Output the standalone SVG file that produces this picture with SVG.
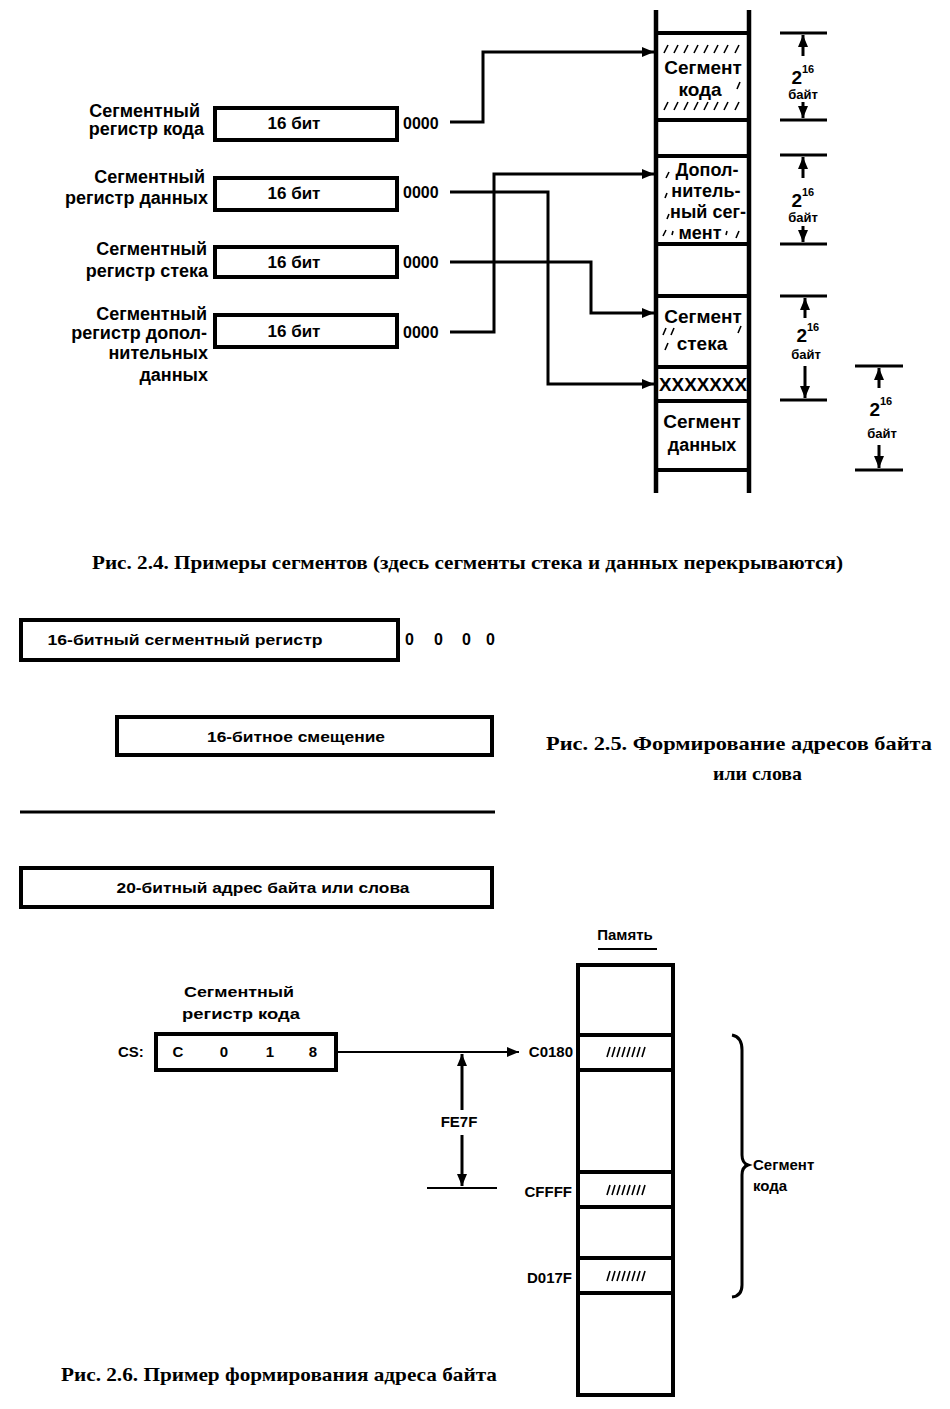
<svg xmlns="http://www.w3.org/2000/svg" width="950" height="1409" viewBox="0 0 950 1409">
<style>
text{font-family:"Liberation Sans",Arial,sans-serif;font-weight:bold;fill:#000}
.lbl{font-size:18px;text-anchor:end}
.box{fill:none;stroke:#000;stroke-width:4}
.wall{stroke:#000;stroke-width:4.5;fill:none}
.sep{stroke:#000;stroke-width:4;fill:none}
.ln{stroke:#000;stroke-width:3;fill:none}
.thin{stroke:#000;stroke-width:2;fill:none}
.hatch{stroke:#000;stroke-width:1.6;fill:none}
.seg{font-size:19px;text-anchor:middle}
.seg2{font-size:18px;text-anchor:middle}
.bit{font-size:17px;text-anchor:middle}
.z{font-size:16px}
.two{font-size:19px;text-anchor:end}
.sup{font-size:11px}
.bt{font-size:13px;text-anchor:middle}
.cap{font-family:"Liberation Serif","Times New Roman",serif;font-weight:bold;font-size:19px}
.b25{font-size:14px;text-anchor:middle}
.m26{font-size:15px}
</style>
<defs>
<marker id="ah" viewBox="0 0 12 10" refX="12" refY="5" markerWidth="13" markerHeight="10" markerUnits="userSpaceOnUse" orient="auto">
<path d="M0,0 L12,5 L0,10 z" fill="#000"/>
</marker>
<marker id="dh" viewBox="0 0 12 10" refX="12" refY="5" markerWidth="14" markerHeight="10" markerUnits="userSpaceOnUse" orient="auto">
<path d="M0,0 L12,5 L0,10 z" fill="#000"/>
</marker>
</defs>

<!-- ===== Fig 2.4 ===== -->
<g id="reg-cs">
<text class="lbl" x="200" y="117">Сегментный</text>
<text class="lbl" x="204" y="135">регистр кода</text>
<rect class="box" x="215" y="108" width="182" height="32"/>
<text class="bit" x="294" y="129">16 бит</text>
<text class="z" x="403" y="129">0000</text>
</g>
<g id="reg-ds">
<text class="lbl" x="205" y="183">Сегментный</text>
<text class="lbl" x="208" y="204">регистр данных</text>
<rect class="box" x="215" y="178" width="182" height="32"/>
<text class="bit" x="294" y="199">16 бит</text>
<text class="z" x="403" y="198">0000</text>
</g>
<g id="reg-ss">
<text class="lbl" x="207" y="255">Сегментный</text>
<text class="lbl" x="208" y="277">регистр стека</text>
<rect class="box" x="215" y="247" width="182" height="30"/>
<text class="bit" x="294" y="268">16 бит</text>
<text class="z" x="403" y="268">0000</text>
</g>
<g id="reg-es">
<text class="lbl" x="207" y="320">Сегментный</text>
<text class="lbl" x="207" y="339">регистр допол-</text>
<text class="lbl" x="208" y="359">нительных</text>
<text class="lbl" x="208" y="381">данных</text>
<rect class="box" x="215" y="315" width="182" height="32"/>
<text class="bit" x="294" y="337">16 бит</text>
<text class="z" x="403" y="338">0000</text>
</g>

<g id="memory-24">
<line class="wall" x1="656" y1="10" x2="656" y2="493"/>
<line class="wall" x1="749" y1="10" x2="749" y2="493"/>
<line class="sep" x1="656" y1="33" x2="749" y2="33"/>
<line class="sep" x1="656" y1="120" x2="749" y2="120"/>
<line class="sep" x1="656" y1="156" x2="749" y2="156"/>
<line class="sep" x1="656" y1="244" x2="749" y2="244"/>
<line class="sep" x1="656" y1="296" x2="749" y2="296"/>
<line class="sep" x1="656" y1="367" x2="749" y2="367"/>
<line class="sep" x1="656" y1="401" x2="749" y2="401"/>
<line class="sep" x1="656" y1="470" x2="749" y2="470"/>
</g>
<g id="seg-code">
<path class="hatch" d="M664,53l4,-8M674,53l4,-8M684,53l4,-8M694,53l4,-8M704,53l4,-8M714,53l4,-8M724,53l4,-8M735,53l4,-8M664,110l4,-8M674,110l4,-8M684,110l4,-8M694,110l4,-8M704,110l4,-8M714,110l4,-8M724,110l4,-8M735,110l4,-8M737,89l3,-7"/>
<text class="seg" x="703" y="74">Сегмент</text>
<text class="seg" x="700" y="96">кода</text>
</g>
<g id="seg-extra">
<path class="hatch" d="M666,178l3,-6M665,198l2,-5M667,219l2,-5M663,236l3,-6M672,235l1,-4M726,235l1,-4M736,238l3,-7"/>
<text class="seg2" x="707" y="176">Допол-</text>
<text class="seg2" x="706" y="197">нитель-</text>
<text class="seg2" x="708" y="218">ный сег-</text>
<text class="seg2" x="700" y="239">мент</text>
</g>
<g id="seg-stack">
<path class="hatch" d="M663,335l3,-7M671,335l3,-7M738,333l3,-7M665,350l3,-7"/>
<text class="seg" x="703" y="323">Сегмент</text>
<text class="seg" x="702" y="350">стека</text>
</g>
<g id="seg-overlap">
<text class="seg" x="703" y="391" textLength="88" lengthAdjust="spacingAndGlyphs">XXXXXXX</text>
</g>
<g id="seg-data">
<text class="seg" x="702" y="428">Сегмент</text>
<text class="seg2" x="702" y="451">данных</text>
</g>

<g id="dim-1">
<line class="ln" x1="780" y1="33" x2="827" y2="33"/>
<line class="ln" x1="780" y1="120" x2="827" y2="120"/>
<line class="ln" x1="803" y1="56" x2="803" y2="35" marker-end="url(#dh)"/>
<line class="ln" x1="803" y1="102" x2="803" y2="118" marker-end="url(#dh)"/>
<text class="two" x="802" y="84">2</text><text class="sup" x="802" y="73">16</text>
<text class="bt" x="803" y="99">байт</text>
</g>
<g id="dim-2">
<line class="ln" x1="780" y1="155" x2="827" y2="155"/>
<line class="ln" x1="780" y1="244" x2="827" y2="244"/>
<line class="ln" x1="803" y1="178" x2="803" y2="157" marker-end="url(#dh)"/>
<line class="ln" x1="803" y1="226" x2="803" y2="242" marker-end="url(#dh)"/>
<text class="two" x="802" y="207">2</text><text class="sup" x="802" y="196">16</text>
<text class="bt" x="803" y="222">байт</text>
</g>
<g id="dim-3">
<line class="ln" x1="780" y1="296" x2="827" y2="296"/>
<line class="ln" x1="780" y1="400" x2="827" y2="400"/>
<line class="ln" x1="805" y1="318" x2="805" y2="298" marker-end="url(#dh)"/>
<line class="ln" x1="805" y1="366" x2="805" y2="398" marker-end="url(#dh)"/>
<text class="two" x="807" y="342">2</text><text class="sup" x="807" y="331">16</text>
<text class="bt" x="806" y="359">байт</text>
</g>
<g id="dim-4">
<line class="ln" x1="855" y1="366" x2="903" y2="366"/>
<line class="ln" x1="855" y1="470" x2="903" y2="470"/>
<line class="ln" x1="879" y1="388" x2="879" y2="368" marker-end="url(#dh)"/>
<line class="ln" x1="879" y1="445" x2="879" y2="468" marker-end="url(#dh)"/>
<text class="two" x="880" y="416">2</text><text class="sup" x="880" y="405">16</text>
<text class="bt" x="882" y="438">байт</text>
</g>

<g id="connectors-24">
<path class="ln" d="M450,122 H483 V52 H654" marker-end="url(#ah)"/>
<path class="ln" d="M450,192 H548 V384 H654" marker-end="url(#ah)"/>
<path class="ln" d="M450,262 H591 V313 H654" marker-end="url(#ah)"/>
<path class="ln" d="M450,332 H494 V174 H654" marker-end="url(#ah)"/>
</g>

<text class="cap" x="92" y="569" textLength="751" lengthAdjust="spacingAndGlyphs">Рис. 2.4. Примеры сегментов (здесь сегменты стека и данных перекрываются)</text>

<!-- ===== Fig 2.5 ===== -->
<g id="seg-register">
<rect class="box" x="21" y="620" width="377" height="40"/>
<text class="b25" x="185" y="645" textLength="275" lengthAdjust="spacingAndGlyphs">16-битный сегментный регистр</text>
<text class="z" x="405 434 462 486" y="645">0000</text>
</g>
<g id="offset">
<rect class="box" x="117" y="717" width="375" height="38"/>
<text class="b25" x="296" y="742" textLength="178" lengthAdjust="spacingAndGlyphs">16-битное смещение</text>
</g>
<line class="ln" x1="20" y1="812" x2="495" y2="812"/>
<g id="address">
<rect class="box" x="21" y="868" width="471" height="39"/>
<text class="b25" x="263" y="893" textLength="293" lengthAdjust="spacingAndGlyphs">20-битный адрес байта или слова</text>
</g>
<text class="cap" x="546" y="750" textLength="386" lengthAdjust="spacingAndGlyphs">Рис. 2.5. Формирование адресов байта</text>
<text class="cap" x="713" y="780" textLength="89" lengthAdjust="spacingAndGlyphs">или слова</text>

<!-- ===== Fig 2.6 ===== -->
<g id="cs-register">
<text class="m26" x="239" y="997" text-anchor="middle" textLength="110" lengthAdjust="spacingAndGlyphs">Сегментный</text>
<text class="m26" x="241" y="1019" text-anchor="middle" textLength="118" lengthAdjust="spacingAndGlyphs">регистр кода</text>
<text class="m26" x="118" y="1057">CS:</text>
<rect class="box" x="156" y="1034" width="180" height="36"/>
<text class="m26" x="178" y="1057" text-anchor="middle">C</text>
<text class="m26" x="224" y="1057" text-anchor="middle">0</text>
<text class="m26" x="270" y="1057" text-anchor="middle">1</text>
<text class="m26" x="313" y="1057" text-anchor="middle">8</text>
</g>
<g id="memory-26">
<text class="m26" x="625" y="940" text-anchor="middle">Память</text>
<line class="thin" x1="598" y1="949" x2="657" y2="949"/>
<rect class="box" x="578" y="965" width="95" height="430"/>
<line class="sep" x1="578" y1="1035" x2="673" y2="1035"/>
<line class="sep" x1="578" y1="1070" x2="673" y2="1070"/>
<line class="sep" x1="578" y1="1172" x2="673" y2="1172"/>
<line class="sep" x1="578" y1="1207" x2="673" y2="1207"/>
<line class="sep" x1="578" y1="1258" x2="673" y2="1258"/>
<line class="sep" x1="578" y1="1293" x2="673" y2="1293"/>
<path class="hatch" d="M607,1057l3,-10M612,1057l3,-10M617,1057l3,-10M622,1057l3,-10M627,1057l3,-10M632,1057l3,-10M637,1057l3,-10M642,1057l3,-10M607,1195l3,-10M612,1195l3,-10M617,1195l3,-10M622,1195l3,-10M627,1195l3,-10M632,1195l3,-10M637,1195l3,-10M642,1195l3,-10M607,1281l3,-10M612,1281l3,-10M617,1281l3,-10M622,1281l3,-10M627,1281l3,-10M632,1281l3,-10M637,1281l3,-10M642,1281l3,-10"/>
<text class="m26" x="573" y="1057" text-anchor="end">C0180</text>
<text class="m26" x="572" y="1197" text-anchor="end">CFFFF</text>
<text class="m26" x="572" y="1283" text-anchor="end">D017F</text>
</g>
<g id="code-segment-brace">
<path class="ln" d="M732,1035 Q742,1037 742,1050 L742,1155 Q742,1163 748,1165 Q742,1167 742,1175 L742,1285 Q742,1296 732,1297"/>
<text class="m26" x="753" y="1170">Сегмент</text>
<text class="m26" x="753" y="1191">кода</text>
</g>
<g id="connectors-26">
<line class="thin" x1="336" y1="1052" x2="519" y2="1052" marker-end="url(#ah)"/>
<line class="ln" x1="462" y1="1110" x2="462" y2="1054" marker-end="url(#dh)"/>
<line class="ln" x1="462" y1="1135" x2="462" y2="1186" marker-end="url(#dh)"/>
<line class="thin" x1="427" y1="1188" x2="497" y2="1188"/>
<text class="m26" x="459" y="1127" text-anchor="middle">FE7F</text>
</g>
<text class="cap" x="61" y="1381" textLength="436" lengthAdjust="spacingAndGlyphs">Рис. 2.6. Пример формирования адреса байта</text>
</svg>
